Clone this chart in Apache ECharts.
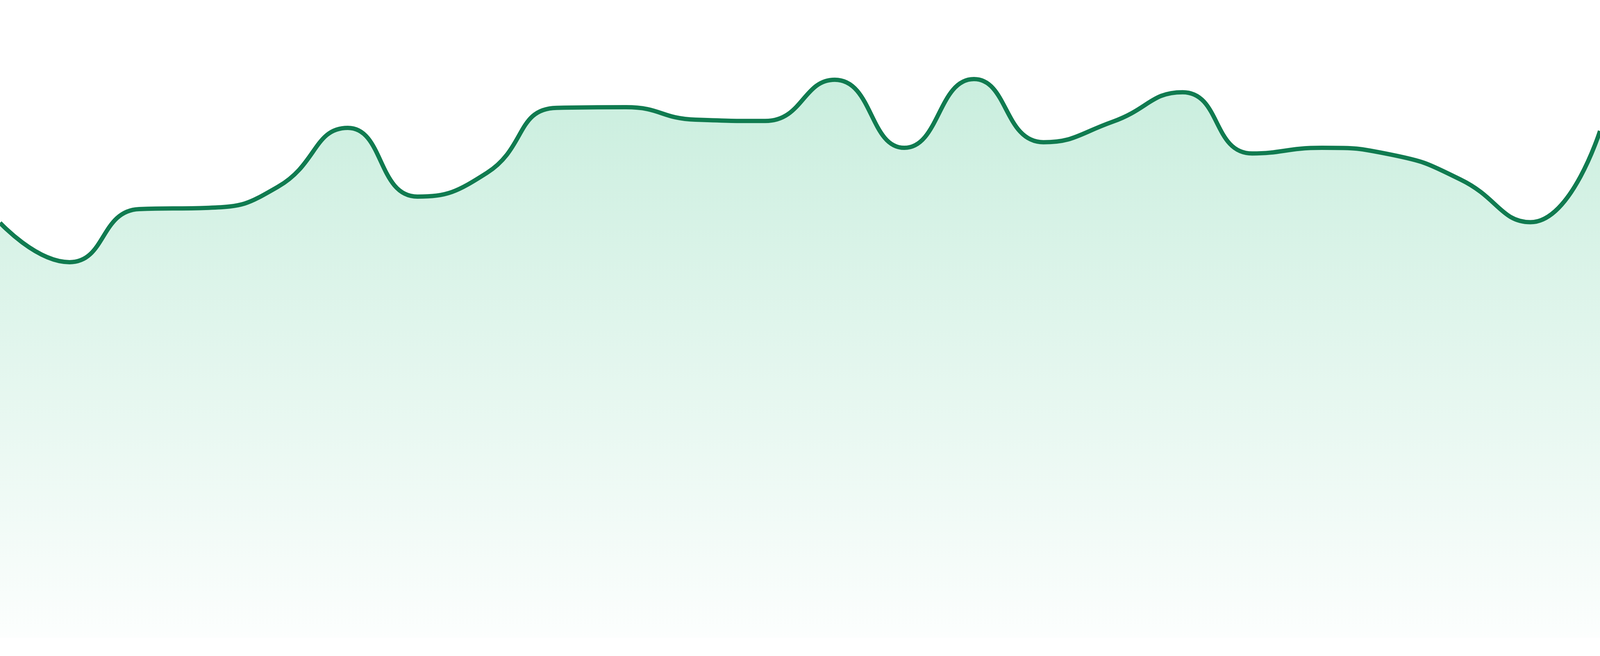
<!DOCTYPE html>
<html>
<head>
<meta charset="utf-8">
<title>Area trend</title>
<script src="https://cdn.jsdelivr.net/npm/echarts@6/dist/echarts.min.js"></script>
<style>
    html, body { margin: 0; padding: 0; background: #fff; width: 100%; height: 100%; overflow: hidden; }
    #chart { width: 100vw; height: 100vh; }
</style>
</head>
<body>
<div id="chart"></div>
<script>
// one value per step
const categories = ['1', '2', '3', '4', '5', '6', '7', '8', '9', '10', '11', '12',
    '13', '14', '15', '16', '17', '18', '19', '20', '21', '22', '23', '24'];
const values = [66.4, 60.1, 68.6, 68.8, 72.2, 81.6, 70.6, 74.4, 84.8, 84.9, 82.9, 82.7,
    89.3, 78.4, 89.4, 79.3, 82.6, 87.3, 77.5, 78.4, 77.3, 73.3, 66.5, 81.1];

const chart = echarts.init(document.getElementById('chart'));
chart.setOption({
    animation: false,
    grid: { left: 0, right: 0, top: 33, bottom: 47 },
    xAxis: {
        type: 'category',
        boundaryGap: false,
        data: categories,
        show: false
    },
    yAxis: {
        type: 'value',
        min: 0,
        max: 100,
        show: false
    },
    series: [{
        type: 'line',
        data: values,
        smooth: true,
        symbol: 'none',
        lineStyle: {
            color: '#107b50',
            width: 11
        },
        areaStyle: {
            color: new echarts.graphic.LinearGradient(0, 0, 0, 1, [
                { offset: 0, color: '#b2e6cf' },
                { offset: 1, color: '#fafdfc' }
            ])
        }
    }]
});
window.addEventListener('resize', function () { chart.resize(); });
</script>
</body>
</html>
